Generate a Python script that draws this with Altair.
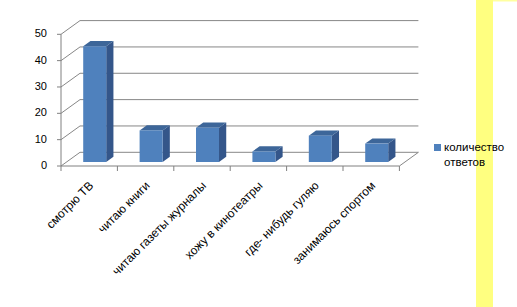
import altair as alt
import pandas as pd

# ---------------- data ----------------
categories = ["смотрю ТВ", "читаю книги", "читаю газеты журналы",
              "хожу в кинотеатры", "где- нибудь гуляю", "занимаюсь спортом"]
values = [44, 12, 13, 4, 10, 7]
series_name = ["количество", "ответов"]
y_ticks = [0, 10, 20, 30, 40, 50]

# ---------------- geometry (pseudo 3D) ----------------
W, H = 360, 146              # plot area in px
CAT_PX = 56.4                # px per category
UNIT_PX = 2.634              # px per value unit
XMAX = W / CAT_PX
YMAX = H / UNIT_PX
DX = 19 / CAT_PX             # full depth, x (data units)
DY = 13.7 / UNIT_PX          # full depth, y (data units)
F0 = 0.29                    # bar front position within depth
FD = 0.38                    # bar depth fraction
HALF = 11.5 / CAT_PX         # half bar width
TICK_Y = 5 / UNIT_PX
TICK_X = 4 / CAT_PX
LAB_PAD = 14 / UNIT_PX
LAB_DX = -1.5 / CAT_PX

n = len(categories)
front, side, top = [], [], []
for i, (c, v) in enumerate(zip(categories, values)):
    xl = i + 0.5 - HALF + F0 * DX
    xr = i + 0.5 + HALF + F0 * DX
    yb = F0 * DY
    yt = v + F0 * DY
    ddx, ddy = FD * DX, FD * DY
    front.append(dict(cat=c, xl=xl, xr=xr, yb=yb, yt=yt))
    side += [dict(cat=c, x=xr, lo=yb, hi=yt),
             dict(cat=c, x=xr + ddx, lo=yb + ddy, hi=yt + ddy)]
    top += [dict(cat=c, y=yt, lo=xl, hi=xr),
            dict(cat=c, y=yt + ddy, lo=xl + ddx, hi=xr + ddx)]

grid = []
for t in y_ticks:
    grid.append(dict(x=DX, y=t + DY, x2=n + DX, y2=t + DY))
    grid.append(dict(x=0, y=t, x2=DX, y2=t + DY))
grid.append(dict(x=n, y=0, x2=n + DX, y2=DY))

axis_lines = [dict(x=0, y=0, x2=n, y2=0), dict(x=0, y=0, x2=0, y2=y_ticks[-1])]
for k in range(n + 1):
    axis_lines.append(dict(x=k, y=0, x2=k, y2=-TICK_Y))
for t in y_ticks:
    axis_lines.append(dict(x=0, y=t, x2=-TICK_X, y2=t))

front_df = pd.DataFrame(front)
side_df = pd.DataFrame(side)
top_df = pd.DataFrame(top)
grid_df = pd.DataFrame(grid)
axis_df = pd.DataFrame(axis_lines)
xlab_df = pd.DataFrame({"x": [i + 0.5 + LAB_DX for i in range(n)], "y": [-LAB_PAD] * n,
                        "label": categories})
ylab_df = pd.DataFrame({"x": [0] * len(y_ticks), "y": y_ticks,
                        "label": [str(t) for t in y_ticks]})
leg_df = pd.DataFrame({"label": [series_name]})

xs = alt.Scale(domain=[0, XMAX], nice=False, zero=False)
ys = alt.Scale(domain=[0, YMAX], nice=False, zero=False)
FONT = "Liberation Sans"
GRAY = "#878787"
BLUE = "#4F81BD"

X = lambda f: alt.X(f, scale=xs, axis=None)
Y = lambda f: alt.Y(f, scale=ys, axis=None)

one = pd.DataFrame({"a": [0]})
yellow = alt.Chart(one).mark_rect(color="#FFFF80").encode(
    x=alt.value(415), x2=alt.value(432), y=alt.value(-20), y2=alt.value(287))
yellow_top = alt.Chart(one).mark_rect(color="#FFFFA0").encode(
    x=alt.value(432), x2=alt.value(456), y=alt.value(-20), y2=alt.value(-18.5))

grid_layer = alt.Chart(grid_df).mark_rule(color=GRAY, strokeWidth=1).encode(
    x=X("x:Q"), x2="x2:Q", y=Y("y:Q"), y2="y2:Q")

axis_layer = alt.Chart(axis_df).mark_rule(color="#808080", strokeWidth=1).encode(
    x=X("x:Q"), x2="x2:Q", y=Y("y:Q"), y2="y2:Q")

ylab_layer = alt.Chart(ylab_df).mark_text(
    align="right", baseline="middle", dx=-14, font=FONT, fontSize=11, color="#000000"
).encode(x=X("x:Q"), y=Y("y:Q"), text="label:N")

xlab_layer = alt.Chart(xlab_df).mark_text(
    align="right", baseline="top", angle=315, font=FONT, fontSize=12, color="#000000"
).encode(x=X("x:Q"), y=Y("y:Q"), text="label:N")

side_layer = alt.Chart(side_df).mark_area(orient="vertical", color="#34568A").encode(
    x=X("x:Q"), y=Y("hi:Q"), y2="lo:Q", detail="cat:N")

top_layer = alt.Chart(top_df).mark_area(orient="horizontal", color="#3D6699").encode(
    y=Y("y:Q"), x=X("lo:Q"), x2="hi:Q", detail="cat:N")

front_layer = alt.Chart(front_df).mark_rect(color=BLUE).encode(
    x=X("xl:Q"), x2="xr:Q", y=Y("yb:Q"), y2="yt:Q")

# legend (symbol + two-line label)
leg_sym = alt.Chart(one).mark_rect(color=BLUE).encode(
    x=alt.value(373), x2=alt.value(380), y=alt.value(124), y2=alt.value(131))
leg_txt = alt.Chart(leg_df).mark_text(
    align="left", baseline="middle", font=FONT, fontSize=11.5, lineHeight=15.5,
    color="#000000"
).encode(x=alt.value(383), y=alt.value(127.5), text="label")

chart = alt.layer(yellow, yellow_top, grid_layer, axis_layer, ylab_layer, xlab_layer,
                  side_layer, top_layer, front_layer, leg_sym, leg_txt).properties(
    width=W, height=H, autosize="none",
    padding={"left": 61, "top": 20, "right": 517 - 61 - W, "bottom": 307 - 20 - H},
    background="white"
).configure_view(stroke="transparent")

chart.save("out.html", embed_options={"renderer": "svg", "actions": False})
